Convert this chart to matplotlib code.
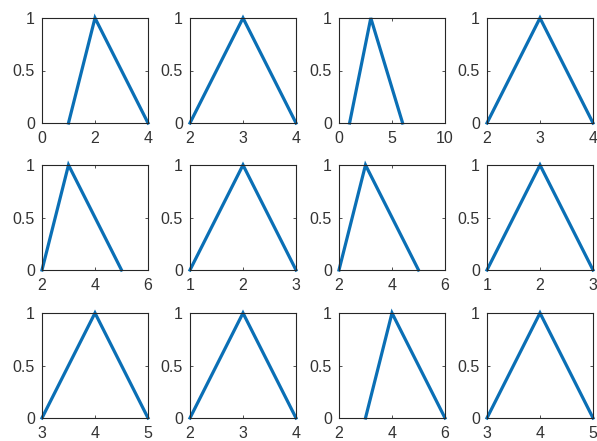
import matplotlib
matplotlib.use("Agg")
import matplotlib.pyplot as plt

# triangle parameters (a, b, c) per subplot, row-major
tri_a = [1, 2, 1, 2, 2, 1, 2, 1, 3, 2, 3, 3]
tri_b = [2, 3, 3, 3, 3, 2, 3, 2, 4, 3, 4, 4]
tri_c = [4, 4, 6, 4, 5, 3, 5, 3, 5, 4, 6, 5]
x_lo = [0, 2, 0, 2, 2, 1, 2, 1, 3, 2, 2, 3]
x_hi = [4, 4, 10, 4, 6, 3, 6, 3, 5, 4, 6, 5]
x_ticks = [[0, 2, 4], [2, 3, 4], [0, 5, 10], [2, 3, 4],
           [2, 4, 6], [1, 2, 3], [2, 4, 6], [1, 2, 3],
           [3, 4, 5], [2, 3, 4], [2, 4, 6], [3, 4, 5]]
y_ticks = [0, 0.5, 1]
y_labels = ["0", "0.5", "1"]

W, H = 597, 441
fig = plt.figure(figsize=(W / 100, H / 100), dpi=100)
plt.rcParams['font.family'] = ['Liberation Sans', 'DejaVu Sans']

col_left = [42, 190, 339, 487]
row_top = [18, 165, 313]
aw, ah = 106, 105
dark = '#333333'

for i in range(12):
    r, c = divmod(i, 4)
    ax = fig.add_axes([col_left[c] / W, 1 - (row_top[r] + ah) / H, aw / W, ah / H])
    ax.plot([tri_a[i], tri_b[i], tri_c[i]], [0, 1, 0], color='#0A6FB5', lw=2.3,
            clip_on=False, solid_joinstyle='miter')
    ax.set_xlim(x_lo[i], x_hi[i])
    ax.set_ylim(0, 1)
    ax.set_xticks(x_ticks[i])
    ax.set_xticklabels([str(t) for t in x_ticks[i]])
    ax.set_yticks(y_ticks)
    ax.set_yticklabels(y_labels)
    ax.tick_params(direction='in', length=2, width=0.6, colors=dark,
                   labelsize=11.5, top=True, right=True)
    ax.tick_params(axis='x', pad=6)
    ax.tick_params(axis='y', pad=5)
    for s in ax.spines.values():
        s.set_color('#262626')
        s.set_linewidth(0.8)

fig.savefig('out.png', dpi=100)
